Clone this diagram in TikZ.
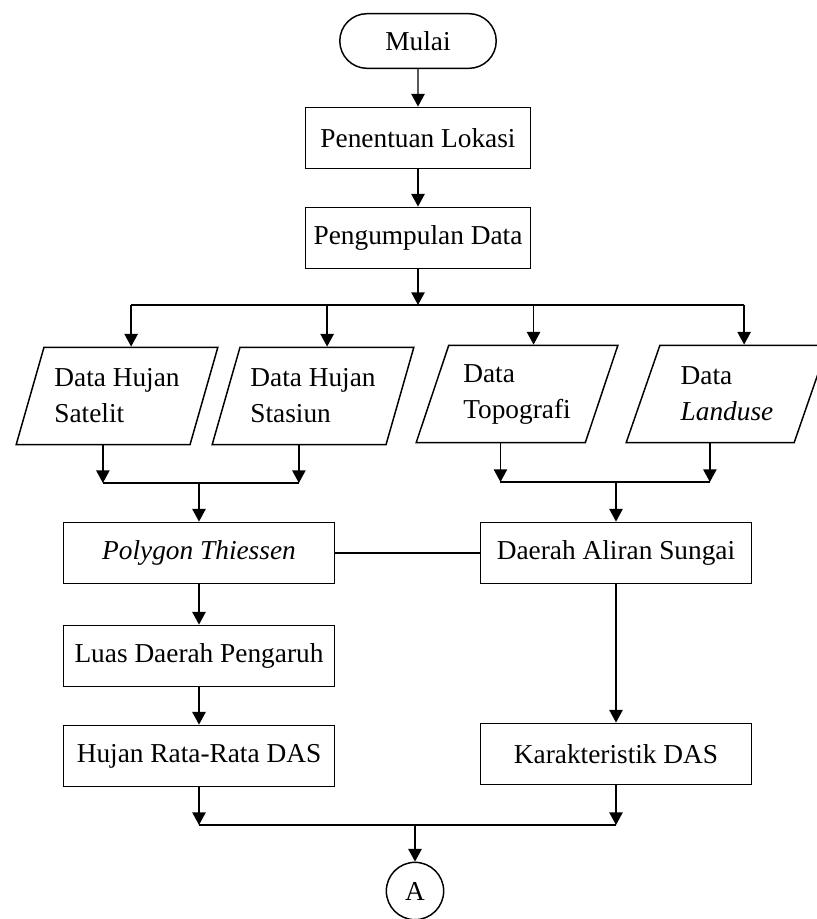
\documentclass[tikz,border=0pt]{standalone}
\usepackage{fontspec}
\setmainfont{Liberation Serif}
\usetikzlibrary{shapes.geometric,shapes.misc,arrows.meta}

\begin{document}
\begin{tikzpicture}[x=0.75pt, y=-0.75pt, line width=1.1pt,
  every node/.style={font=\fontsize{20.5}{27}\selectfont},
  arr/.style={-{Triangle[length=9.5pt,width=10pt]}},
  terminal/.style={draw, rounded rectangle, minimum width=124pt, minimum height=41pt},
  proses/.style={draw, rectangle, minimum width=203pt, minimum height=46pt},
  data/.style={draw, trapezium, trapezium left angle=68, trapezium right angle=112,
    trapezium stretches=true, minimum width=151.5pt, minimum height=73pt, align=left},
  konektor/.style={draw, circle, minimum size=43pt, inner sep=0pt}]
\useasboundingbox (0,0) rectangle (816,919);
\node[terminal] (mulai) at (418,41) {Mulai};
\node[proses, minimum width=169pt] (lokasi) at (418,138) {Penentuan Lokasi};
\node[proses, minimum width=169pt] (kumpul) at (418,238) {Pengumpulan Data};
\node[data] (hsat) at (117,396) {Data Hujan\\Satelit};
\node[data] (hsta) at (313,396) {Data Hujan\\Stasiun};
\node[data] (topo) at (517,394) {Data\\Topografi};
\node[data] (land) at (727,394) {Data\\\textit{Landuse}};
\node[proses] (poly) at (199,553) {\textit{Polygon Thiessen}};
\node[proses] (das) at (616,553) {Daerah Aliran Sungai};
\node[proses] (luas) at (199,656) {Luas Daerah Pengaruh};
\node[proses] (hujan) at (199,756) {Hujan Rata-Rata DAS};
\node[proses] (karak) at (616,754) {Karakteristik DAS};
\node[konektor] (A) at (415,891) {A};
\draw[arr] (mulai) -- (lokasi);
\draw[arr] (lokasi) -- (kumpul);
\coordinate (cabang) at (418,305);
\draw[arr] (kumpul) -- (cabang);
\draw (hsat.top side |- cabang) -- (land.top side |- cabang);
\foreach \n in {hsat,hsta,topo,land}
  \draw[arr] (\n.top side |- cabang) -- (\n.top side);
\coordinate (gabungkiri) at (199,483);
\coordinate (gabungkanan) at (616,482);
\foreach \n in {hsat,hsta}
  \draw[arr] (\n.bottom side) -- (\n.bottom side |- gabungkiri);
\foreach \n in {topo,land}
  \draw[arr] (\n.bottom side) -- (\n.bottom side |- gabungkanan);
\draw (hsat.bottom side |- gabungkiri) -- (hsta.bottom side |- gabungkiri);
\draw (topo.bottom side |- gabungkanan) -- (land.bottom side |- gabungkanan);
\draw[arr] (gabungkiri) -- (poly);
\draw[arr] (gabungkanan) -- (das);
\draw (poly) -- (das);
\draw[arr] (poly) -- (luas);
\draw[arr] (luas) -- (hujan);
\draw[arr] (das) -- (karak);
\coordinate (gabungbawah) at (415,825);
\draw[arr] (hujan) -- (hujan.south |- gabungbawah);
\draw[arr] (karak) -- (karak.south |- gabungbawah);
\draw (hujan.south |- gabungbawah) -- (karak.south |- gabungbawah);
\draw[arr] (gabungbawah) -- (A);
\end{tikzpicture}
\end{document}
